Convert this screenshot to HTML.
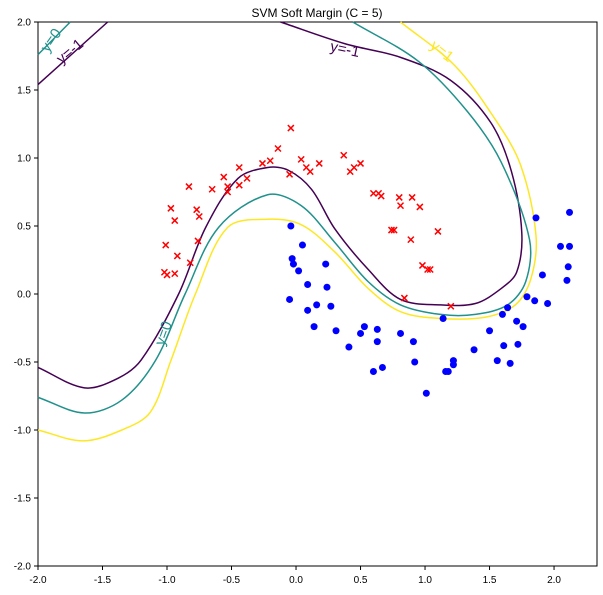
<!DOCTYPE html>
<html><head><meta charset="utf-8"><style>
body{margin:0;background:#fff;font-family:"Liberation Sans",sans-serif}
svg text{font-family:"Liberation Sans",sans-serif}
</style></head><body>
<svg id="c" width="603" height="590">
<text x="317" y="17" text-anchor="middle" font-size="12">SVM Soft Margin (C = 5)</text>
<rect x="38" y="22" width="559" height="544" fill="none" stroke="#000" stroke-width="1"/>
<g id="ticks"></g><g id="contours"></g><g id="pts"></g>
<g font-size="15">
<text transform="translate(168,335) rotate(-70)" fill="#21918c" text-anchor="middle">y=0</text>
<text transform="translate(344,54) rotate(12)" fill="#440154" text-anchor="middle">y=-1</text>
<text transform="translate(439,55) rotate(38)" fill="#fde725" text-anchor="middle">y=1</text>
<text transform="translate(55,43) rotate(-55)" fill="#21918c" text-anchor="middle">y=0</text>
<text transform="translate(73,55) rotate(-40)" fill="#440154" text-anchor="middle">y=-1</text>
</g>
</svg>
<script>
const xTicks=[-2,-1.5,-1,-0.5,0,0.5,1,1.5,2];
const yTicks=[-2,-1.5,-1,-0.5,0,0.5,1,1.5,2];
const redX=[-0.04,-0.14,-0.26,-0.20,0.04,0.08,0.11,0.18,-0.05,0.37,0.42,0.45,0.50,-0.44,-0.56,-0.38,-0.44,-0.65,-0.53,-0.53,-0.83,-0.97,-0.77,-0.75,-0.94,-0.76,-1.01,-0.92,-0.82,-1.02,-1.00,-0.94,0.60,0.64,0.66,0.80,0.81,0.90,0.96,0.74,0.76,0.89,1.10,0.98,1.02,1.04,0.84,1.20];
const redY=[1.22,1.07,0.96,0.98,0.99,0.93,0.90,0.96,0.88,1.02,0.90,0.93,0.96,0.93,0.86,0.85,0.80,0.77,0.79,0.75,0.79,0.63,0.62,0.57,0.54,0.39,0.36,0.28,0.23,0.16,0.14,0.15,0.74,0.74,0.72,0.71,0.65,0.71,0.64,0.47,0.47,0.40,0.46,0.21,0.18,0.18,-0.03,-0.09];
const blueX=[-0.04,0.05,-0.03,-0.02,0.02,0.23,0.09,0.24,-0.05,0.16,0.27,0.09,0.14,0.31,0.53,0.50,0.63,0.63,0.41,0.81,0.91,0.60,0.67,0.92,1.01,1.14,1.22,1.22,1.16,1.18,1.38,1.50,1.60,1.64,1.71,1.76,1.61,1.72,1.56,1.66,1.79,1.85,1.95,1.91,1.86,2.12,2.05,2.12,2.11,2.10];
const blueY=[0.50,0.36,0.26,0.22,0.17,0.22,0.07,0.05,-0.04,-0.08,-0.09,-0.12,-0.24,-0.27,-0.24,-0.29,-0.26,-0.35,-0.39,-0.29,-0.35,-0.57,-0.54,-0.50,-0.73,-0.18,-0.49,-0.52,-0.57,-0.57,-0.41,-0.27,-0.15,-0.10,-0.20,-0.24,-0.38,-0.37,-0.49,-0.51,-0.02,-0.05,-0.07,0.14,0.56,0.60,0.35,0.35,0.20,0.10];
// contour traces (data coords)
const purpleX=[-2,-1.64,-1.38,-1.2,-0.91,-0.7,-0.45,-0.22,-0.06,0.12,0.30,0.56,0.81,1.12,1.39,1.59,1.71,1.75,1.67,1.51,1.20,0.81,0.38,-0.12];
const purpleY=[-0.54,-0.69,-0.62,-0.485,0,0.49,0.85,0.93,0.91,0.77,0.48,0.18,-0.04,-0.08,-0.07,0.04,0.16,0.45,0.90,1.26,1.57,1.74,1.84,2.0];
const purple2X=[-2,-1.46];
const purple2Y=[1.54,2.0];
const tealX=[-2,-1.64,-1.35,-1.09,-0.86,-0.6,-0.22,0.04,0.30,0.56,0.81,1.12,1.39,1.64,1.78,1.81,1.59,1.33,0.95,0.44];
const tealY=[-0.76,-0.875,-0.78,-0.49,0,0.49,0.73,0.65,0.38,0.09,-0.08,-0.15,-0.15,-0.08,0.09,0.40,0.97,1.34,1.71,2.0];
const teal2X=[-2,-1.75];
const teal2Y=[1.76,2.0];
const yellowX=[-2,-1.65,-1.35,-1.13,-0.97,-0.78,-0.53,-0.22,0.04,0.30,0.56,0.81,1.12,1.47,1.70,1.82,1.86,1.74,1.54,1.23,0.81];
const yellowY=[-1.0,-1.08,-1.0,-0.87,-0.49,0,0.49,0.55,0.51,0.31,0.04,-0.13,-0.18,-0.17,-0.08,0.11,0.43,0.95,1.29,1.68,2.0];

const X0=38,X1=597,Y0=22,Y1=566,xmin=-2,xmax=2.333,ymin=-2,ymax=2;
const sx=v=>X0+(v-xmin)/(xmax-xmin)*(X1-X0);
const sy=v=>Y1-(v-ymin)/(ymax-ymin)*(Y1-Y0);
const NS='http://www.w3.org/2000/svg';
function mk(t,a,p){const e=document.createElementNS(NS,t);for(const k in a)e.setAttribute(k,a[k]);p.appendChild(e);return e;}
const tg=document.getElementById('ticks');
xTicks.forEach(v=>{const x=sx(v);
 const l=mk('line',{x1:x,x2:x,y1:Y1,y2:Y1+4,stroke:'#000'},tg);
 
 
 const t=mk('text',{x:x,y:Y1+17,'text-anchor':'middle','font-size':10},tg);t.textContent=v.toFixed(1);
 
 });
yTicks.forEach(v=>{const y=sy(v);
 const l=mk('line',{x1:X0-4,x2:X0,y1:y,y2:y,stroke:'#000'},tg);
 
 
 const t=mk('text',{x:X0-7,y:y+3.5,'text-anchor':'end','font-size':10},tg);t.textContent=v.toFixed(1);
 
 });
const dist=(a,b)=>Math.hypot(a[0]-b[0],a[1]-b[1])||1e-6;
function smooth(xs,ys){const p=xs.map((x,i)=>[sx(x),sy(ys[i])]);const n=p.length;
 const tan=i=>{const a=p[Math.max(0,i-1)],c=p[Math.min(n-1,i+1)],b=p[i];
  const L=dist(a,b)*(i>0)+dist(b,c)*(i<n-1);return [(c[0]-a[0])/L,(c[1]-a[1])/L];};
 let d='M'+p[0][0]+','+p[0][1];
 for(let i=0;i<n-1;i++){const b=p[i],c=p[i+1],L=dist(b,c)/3,tb=tan(i),tc=tan(i+1);
  d+=' C'+(b[0]+tb[0]*L)+','+(b[1]+tb[1]*L)+' '+(c[0]-tc[0]*L)+','+(c[1]-tc[1]*L)+' '+c[0]+','+c[1];}
 return d;}
const cg=document.getElementById('contours');
[[purpleX,purpleY,'#440154','contour-ym1'],[purple2X,purple2Y,'#440154','contour-ym1-top'],[tealX,tealY,'#21918c','contour-y0'],[teal2X,teal2Y,'#21918c','contour-y0-top'],[yellowX,yellowY,'#fde725','contour-y1']].forEach(s=>{
 const p=mk('path',{d:smooth(s[0],s[1]),fill:'none',stroke:s[2],'stroke-width':1.5},cg);
 
 });
const pg=document.getElementById('pts');
blueX.forEach((x,i)=>{const c=mk('circle',{cx:sx(x),cy:sy(blueY[i]),r:3.5,fill:'#0000ff'},pg);
 
 });
redX.forEach((x,i)=>{const cx=sx(x),cy=sy(redY[i]);
 const p=mk('path',{d:`M${cx-3},${cy-3}L${cx+3},${cy+3}M${cx-3},${cy+3}L${cx+3},${cy-3}`,stroke:'#ff0000','stroke-width':1.5},pg);
 
 });
</script>
</body></html>
